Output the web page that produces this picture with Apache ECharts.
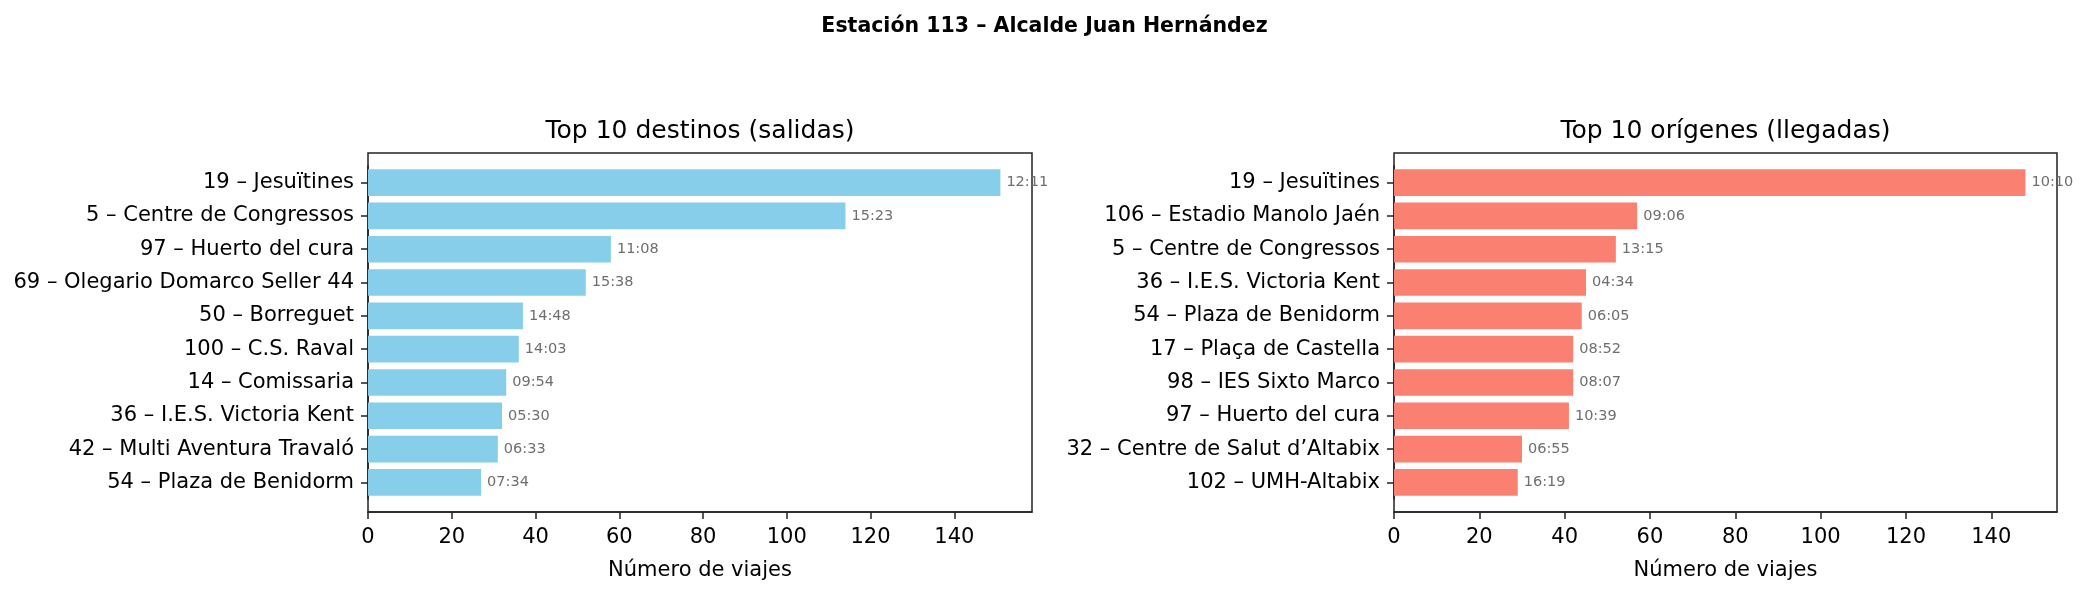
<!DOCTYPE html>
<html><head><meta charset="utf-8">
<script src="https://cdn.jsdelivr.net/npm/echarts@6/dist/echarts.min.js"></script>
<style>html,body{margin:0;padding:0;background:#fff}#c{width:2089px;height:594px}</style>
</head><body><div id="c"></div>
<script>
const suptitle = 'Estación 113 – Alcalde Juan Hernández';
const leftTitle = 'Top 10 destinos (salidas)';
const rightTitle = 'Top 10 orígenes (llegadas)';
const xAxisName = 'Número de viajes';
const xTicks = [0, 20, 40, 60, 80, 100, 120, 140];

const destinos = ['19 – Jesuïtines', '5 – Centre de Congressos', '97 – Huerto del cura', '69 – Olegario Domarco Seller 44', '50 – Borreguet', '100 – C.S. Raval', '14 – Comissaria', '36 – I.E.S. Victoria Kent', '42 – Multi Aventura Travaló', '54 – Plaza de Benidorm'];
const destinosViajes = [151, 114, 58, 52, 37, 36, 33, 32, 31, 27];
const destinosHora = ['12:11', '15:23', '11:08', '15:38', '14:48', '14:03', '09:54', '05:30', '06:33', '07:34'];

const origenes = ['19 – Jesuïtines', '106 – Estadio Manolo Jaén', '5 – Centre de Congressos', '36 – I.E.S. Victoria Kent', '54 – Plaza de Benidorm', '17 – Plaça de Castella', '98 – IES Sixto Marco', '97 – Huerto del cura', '32 – Centre de Salut d’Altabix', '102 – UMH-Altabix'];
const origenesViajes = [148, 57, 52, 45, 44, 42, 42, 41, 30, 29];
const origenesHora = ['10:10', '09:06', '13:15', '04:34', '06:05', '08:52', '08:07', '10:39', '06:55', '16:19'];

const FONT = 'DejaVu Sans';
const chart = echarts.init(document.getElementById('c'), null, {renderer: 'canvas'});

const panels = [
  {left: 368, width: 664, title: leftTitle, cats: destinos, vals: destinosViajes, hours: destinosHora, color: '#87CEEB'},
  {left: 1394, width: 663, title: rightTitle, cats: origenes, vals: origenesViajes, hours: origenesHora, color: '#FA8072'}
];
const frameTop = 153, frameHeight = 359;
const nCats = 10;
const span = (nCats - 1 + 0.8) * 1.1;          // matplotlib y-range with 5% margins
const inset = ((span - nCats) / 2) / span * frameHeight;

const grid = [], xAxis = [], yAxis = [], series = [];
panels.forEach((p, i) => {
  const xMax = Math.max(...p.vals) * 1.05;
  // frame grid
  grid.push({left: p.left, top: frameTop, width: p.width, height: frameHeight, show: true,
    borderColor: '#222', borderWidth: 1.5, backgroundColor: 'transparent', containLabel: false});
  xAxis.push({gridIndex: 2 * i, type: 'value', position: 'top', min: 0, max: 1,
    axisLine: {show: false}, axisTick: {show: false}, axisLabel: {show: false}, splitLine: {show: false},
    name: p.title, nameLocation: 'middle', nameGap: 9,
    nameTextStyle: {fontFamily: FONT, fontSize: 25, color: '#000'}});
  yAxis.push({gridIndex: 2 * i, type: 'value', show: false, min: 0, max: 1});
  // data grid
  grid.push({left: p.left, top: frameTop + inset, width: p.width, height: frameHeight - 2 * inset, containLabel: false});
  xAxis.push({gridIndex: 2 * i + 1, type: 'value', min: 0, max: xMax, offset: inset,
    axisLine: {show: true, lineStyle: {color: '#222', width: 1.5}},
    axisTick: {show: true, length: 7, lineStyle: {color: '#222', width: 1.5}, customValues: xTicks},
    axisLabel: {customValues: xTicks, fontFamily: FONT, fontSize: 21, color: '#000', margin: 15},
    splitLine: {show: false},
    name: xAxisName, nameLocation: 'middle', nameGap: 48,
    nameTextStyle: {fontFamily: FONT, fontSize: 21, color: '#000'}});
  yAxis.push({gridIndex: 2 * i + 1, type: 'category', inverse: true, data: p.cats,
    axisLine: {show: true, lineStyle: {color: '#222', width: 1.5}},
    axisTick: {show: true, alignWithLabel: true, length: 7, lineStyle: {color: '#222', width: 1.5}},
    axisLabel: {fontFamily: FONT, fontSize: 21, color: '#000', margin: 14},
    splitLine: {show: false}});
  series.push({type: 'bar', xAxisIndex: 2 * i + 1, yAxisIndex: 2 * i + 1, data: p.vals,
    barWidth: '80%', itemStyle: {color: p.color}, silent: true,
    label: {show: true, position: 'right', distance: 6, fontFamily: FONT, fontSize: 14.5, color: '#6e6e6e',
      formatter: (d) => p.hours[d.dataIndex]}});
});

chart.setOption({
  animation: false,
  backgroundColor: '#fff',
  title: {text: suptitle, left: 'center', top: 11,
    textStyle: {fontFamily: FONT, fontSize: 20.5, fontWeight: 'bold', color: '#000'}},
  grid, xAxis, yAxis, series
});
</script></body></html>
